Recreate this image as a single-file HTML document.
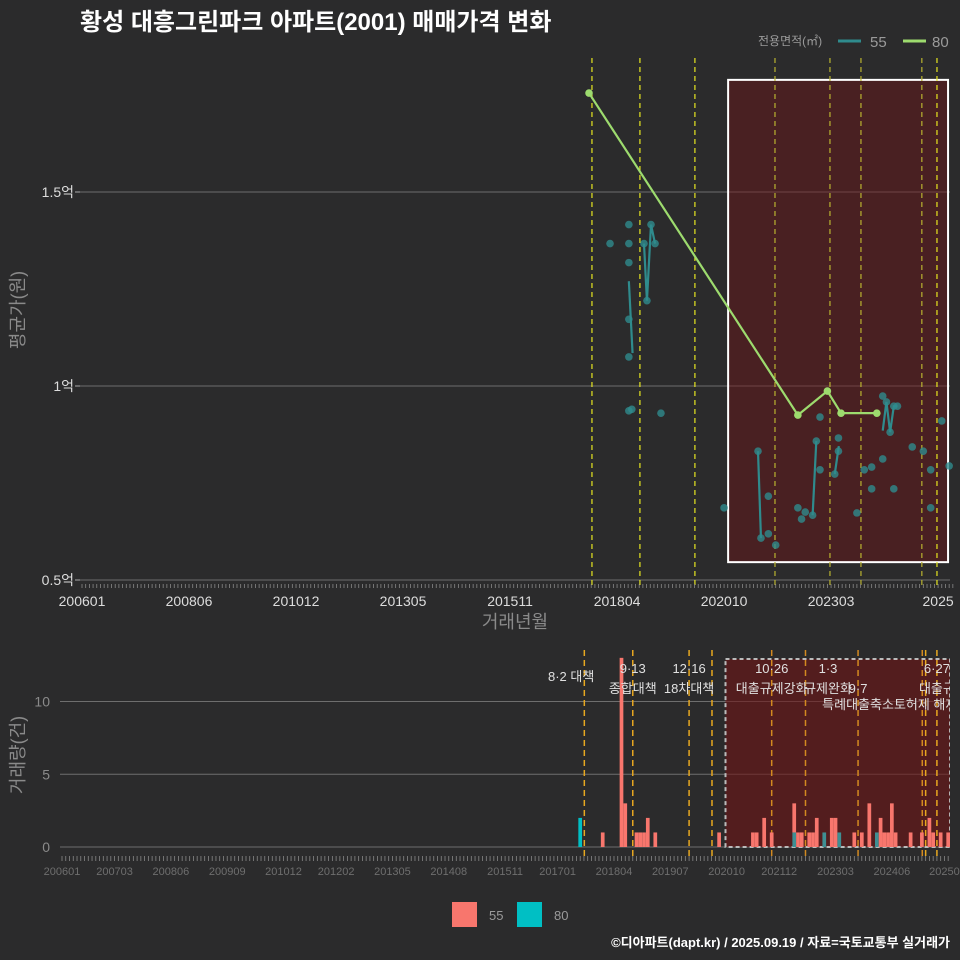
<!DOCTYPE html>
<html><head><meta charset="utf-8"><style>
html,body{margin:0;padding:0;background:#2b2b2c;}
svg{display:block;font-family:"Liberation Sans","Noto Sans CJK KR",sans-serif;}
</style></head><body>
<svg id="c" width="960" height="960" viewBox="0 0 960 960">
<rect x="0" y="0" width="960" height="960" fill="#2b2b2c"/>
<text x="80" y="30" fill="#ffffff" font-size="24" font-weight="bold">황성 대흥그린파크 아파트(2001) 매매가격 변화</text>
<g>
<text x="758" y="45" fill="#9a9a9a" font-size="12">전용면적(㎡)</text>
<line x1="838" y1="41" x2="861" y2="41" stroke="#2f8b8d" stroke-width="3"/>
<text x="870" y="47" fill="#9a9a9a" font-size="15">55</text>
<line x1="903" y1="41" x2="926" y2="41" stroke="#9ddb6e" stroke-width="3"/>
<text x="932" y="47" fill="#9a9a9a" font-size="15">80</text>
</g>
<g id="top"></g>
<g id="bot"></g>
<text transform="translate(24,310) rotate(-90)" text-anchor="middle" fill="#8a8a8a" font-size="18">평균가(원)</text>
<text x="515" y="628" text-anchor="middle" fill="#8a8a8a" font-size="18">거래년월</text>
<text transform="translate(24,755) rotate(-90)" text-anchor="middle" fill="#8a8a8a" font-size="18">거래량(건)</text>
<g>
<rect x="452" y="902" width="25" height="25" fill="#f8766d"/>
<text x="489" y="920" fill="#9a9a9a" font-size="13">55</text>
<rect x="517" y="902" width="25" height="25" fill="#00bfc4"/>
<text x="554" y="920" fill="#9a9a9a" font-size="13">80</text>
</g>
<text x="950" y="947" text-anchor="end" fill="#ffffff" font-size="13" font-weight="bold">©디아파트(dapt.kr) / 2025.09.19 / 자료=국토교통부 실거래가</text>
</svg>
<script>
// month index: 0 = 2006-01
const topTickIdx=[0,29,58,87,116,145,174,203,232];
const topTickLabels=["200601","200806","201012","201305","201511","201804","202010","202303","2025"];
const yTicks=[0.5,1,1.5];
const yTickLabels=["0.5억","1억","1.5억"];
const s80Months=[137.4,194,202,205.7,215.4];
const s80Values=[1.755,0.925,0.987,0.93,0.93];
const s55Months=[143.1,148.2,148.2,148.2,148.2,148.2,148.2,149,152.3,153.1,154.2,155.3,156.9,174,183.2,184,186,186,188,194,195,196,198,199,200,200,204,205,205,210,212,214,214,217,217,218,219,220,220,221,225,228,230,230,233,235];
const s55Values=[1.367,1.416,1.367,1.318,1.172,1.075,0.936,0.94,1.367,1.22,1.416,1.367,0.93,0.686,0.832,0.608,0.716,0.619,0.59,0.686,0.657,0.675,0.667,0.858,0.784,0.92,0.773,0.832,0.866,0.673,0.784,0.791,0.735,0.812,0.974,0.959,0.881,0.735,0.948,0.948,0.843,0.832,0.784,0.686,0.91,0.794];
const l55Months=[[148.2,149.2],[152.3,153.1,154.2,155.3],[183.2,184],[199,198],[204,205.1],[217,218,219,220,221]];
const l55Values=[[1.27,1.085],[1.367,1.22,1.416,1.367],[0.832,0.608],[0.858,0.667],[0.773,0.845],[0.885,0.959,0.881,0.948,0.948]];
const topEvents=[138.2,151.2,166.1,187.8,202.7,211.1,227.6,231.7];
const topBox=[175.1,234.7,0.546,1.789];
const botTickIdx=[0,14,29,44,59,73,88,103,118,132,147,162,177,191,206,221,235];
const botTickLabels=["200601","200703","200806","200909","201012","201202","201305","201408","201511","201701","201804","201907","202010","202112","202303","202406","20250"];
const volTicks=[0,5,10];
const barMonths=[138,144,149,150,153,154,155,156,158,175,184,185,187,189,195,196,197,199,200,201,203,205,206,207,211,213,215,217,218,219,220,221,222,226,229,231,232,234,236];
const bar55=[0,1,13,3,1,1,1,2,1,1,1,1,2,1,2,1,1,1,1,2,0,2,2,0,1,1,3,0,2,1,1,3,1,1,1,2,1,1,1];
const bar80=[2,0,0,0,0,0,0,0,0,0,0,0,0,0,1,0,0,0,0,0,1,0,0,1,0,0,0,1,0,0,0,0,0,0,0,0,0,0,0];
const botEvents=[139.1,152,167,173.1,189,198,212,229.1,230,233];
const evLabels=["8·2 대책","9·13","종합대책","12·16","18차대책","10·26","대출규제강화","1·3","규제완화","9·7","특례대출축소","토허제 해제","6·27","대출규"];
const evLabelMonths=[139.1,152,152,167,167,189,189,204,204,212,212,230,233,233];
const evLabelRows=[3,0,1,0,1,0,1,0,1,1,2,2,0,1];
const botBox=[176.7,236.5];

const NS="http://www.w3.org/2000/svg";
function mk(p,t,a){const e=document.createElementNS(NS,t);for(const k in a)e.setAttribute(k,a[k]);p.appendChild(e);return e;}
const tx=m=>82+m*3.69, ty=v=>580-(v-0.5)*388;
const bx=m=>62+m*3.755, by=n=>847-n*14.55;
const topG=document.getElementById('top'), botG=document.getElementById('bot');

yTicks.forEach((v,i)=>{
 let g=mk(topG,'line',{x1:80,x2:950,y1:ty(v),y2:ty(v),stroke:'#6e6e6e','stroke-width':1});
 
 
 let t=mk(topG,'text',{x:74,y:ty(v)+5,'text-anchor':'end',fill:'#dddddd','font-size':14});
 t.textContent=yTickLabels[i];
 
 
 let k=mk(topG,'line',{x1:75,x2:80,y1:ty(v),y2:ty(v),stroke:'#aaa'});
 
 
});
let bxr=mk(topG,'rect',{x:tx(topBox[0]),y:ty(topBox[3]),width:tx(topBox[1])-tx(topBox[0]),height:ty(topBox[2])-ty(topBox[3]),fill:'rgba(110,20,22,0.45)',stroke:'#ffffff','stroke-width':2});


topEvents.forEach((m,i)=>{
 let l=mk(topG,'line',{x1:tx(m),x2:tx(m),y1:58,y2:585,stroke:(i>=3&&i<7)?'#b9b330':'#e6e620','stroke-width':1.2,'stroke-dasharray':'5,4'});
 
 
});
for(let m=0;m<=236;m++){
 let l=mk(topG,'line',{x1:tx(m),x2:tx(m),y1:584,y2:588,stroke:'#888','stroke-width':0.8});
 
 
}
topTickIdx.forEach((m,i)=>{
 let t=mk(topG,'text',{x:tx(m),y:606,'text-anchor':'middle',fill:'#dddddd','font-size':14});
 t.textContent=topTickLabels[i];
 
 
});
l55Months.forEach((ms,j)=>{
 let p=mk(topG,'polyline',{points:ms.map((m,i)=>tx(m)+','+ty(l55Values[j][i])).join(' '),fill:'none',stroke:'#2f8b8d','stroke-width':2.2});
 
 
});
s55Months.forEach((m,i)=>{
 let c=mk(topG,'circle',{cx:tx(m),cy:ty(s55Values[i]),r:3.8,fill:'#2f8b8d','fill-opacity':0.8});
 
 
});
let p80=mk(topG,'polyline',{points:s80Months.map((m,i)=>tx(m)+','+ty(s80Values[i])).join(' '),fill:'none',stroke:'#9ddb6e','stroke-width':2.2});


s80Months.forEach((m,i)=>{
 let c=mk(topG,'circle',{cx:tx(m),cy:ty(s80Values[i]),r:3.8,fill:'#9ddb6e'});
 
 
});

volTicks.forEach(v=>{
 let g=mk(botG,'line',{x1:60,x2:950,y1:by(v),y2:by(v),stroke:'#6e6e6e','stroke-width':1});
 
 
 let t=mk(botG,'text',{x:50,y:by(v)+5,'text-anchor':'end',fill:'#8a8a8a','font-size':14});
 t.textContent=String(v);
 
 
});
let bb=mk(botG,'rect',{x:bx(botBox[0]),y:659,width:bx(botBox[1])-bx(botBox[0]),height:188,fill:'rgba(110,20,22,0.6)',stroke:'#bbbbbb','stroke-width':2,'stroke-dasharray':'4,3'});


botEvents.forEach((m,i)=>{
 let l=mk(botG,'line',{x1:bx(m),x2:bx(m),y1:650,y2:860,stroke:(i>=4&&i<8)?'#d38a20':'#e8a820','stroke-width':1.5,'stroke-dasharray':'6,4'});
 
 
});
barMonths.forEach((m,i)=>{
 const w=3.7, x=bx(m)-w/2;
 if(bar80[i]>0){
  let r=mk(botG,'rect',{x:x,y:by(bar80[i]),width:w,height:by(0)-by(bar80[i]),fill:m>176?'#3f8f93':'#00bfc4'});
  
  
 }
 if(bar55[i]>0){
  let r=mk(botG,'rect',{x:x,y:by(bar55[i]+bar80[i]),width:w,height:by(bar80[i])-by(bar55[i]+bar80[i]),fill:'#f8766d'});
  
  
 }
});
const rowY=[673,693,709,681];
evLabels.forEach((s,i)=>{
 let t=mk(botG,'text',{x:bx(evLabelMonths[i]),y:rowY[evLabelRows[i]],'text-anchor':i===0?'end':'middle',fill:'#e0e0e0','font-size':13});
 if(i===0)t.setAttribute('x',bx(evLabelMonths[i])+10);
 t.textContent=s;
 
 
});
for(let m=0;m<=236;m++){
 let l=mk(botG,'line',{x1:bx(m),x2:bx(m),y1:856,y2:861,stroke:'#888','stroke-width':0.8});
 
 
}
botTickIdx.forEach((m,i)=>{
 let t=mk(botG,'text',{x:bx(m),y:875,'text-anchor':'middle',fill:'#6e6e6e','font-size':11});
 t.textContent=botTickLabels[i];
 
 
});
let cover=mk(botG,'rect',{x:950,y:640,width:10,height:210,fill:'#2b2b2c'});


</script>
</body></html>
